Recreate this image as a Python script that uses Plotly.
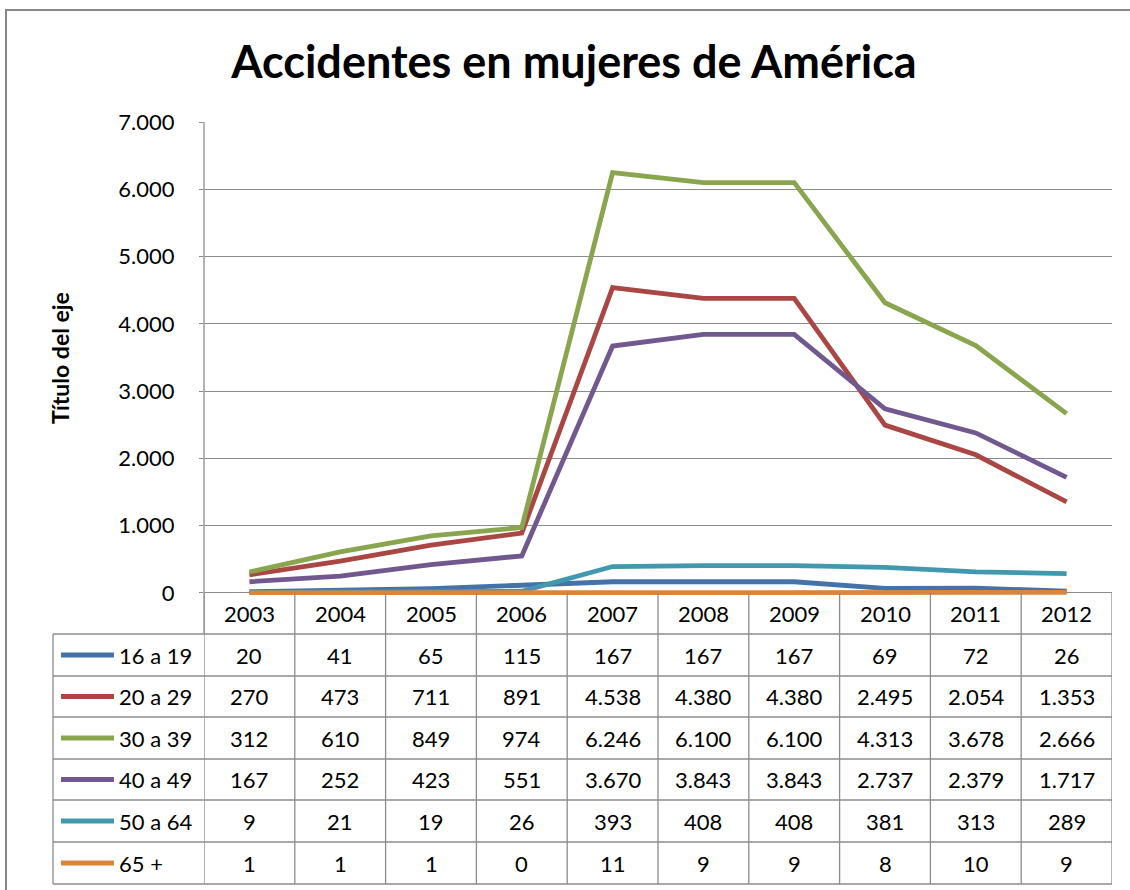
import plotly.graph_objects as go

years = ["2003", "2004", "2005", "2006", "2007", "2008", "2009", "2010", "2011", "2012"]
series_names = ["16 a 19", "20 a 29", "30 a 39", "40 a 49", "50 a 64", "65 +"]
v_16_19 = [20, 41, 65, 115, 167, 167, 167, 69, 72, 26]
v_20_29 = [270, 473, 711, 891, 4538, 4380, 4380, 2495, 2054, 1353]
v_30_39 = [312, 610, 849, 974, 6246, 6100, 6100, 4313, 3678, 2666]
v_40_49 = [167, 252, 423, 551, 3670, 3843, 3843, 2737, 2379, 1717]
v_50_64 = [9, 21, 19, 26, 393, 408, 408, 381, 313, 289]
v_65 = [1, 1, 1, 0, 11, 9, 9, 8, 10, 9]
series_values = [v_16_19, v_20_29, v_30_39, v_40_49, v_50_64, v_65]
colors = ["#4572A7", "#AA4643", "#89A54E", "#71588F", "#4198AF", "#DB843D"]

W, H = 1130, 890
PL, PR, PT, PB = 204, 1112, 122, 595
FONT = "Lato"
GRID = "#8C8C8C"
TXT = 22
LW = 4.8


def py(p):
    return (PB - p) / (PB - PT)


def px(p):
    return (p - PL) / (PR - PL)


fig = go.Figure()
xs = list(range(len(years)))
for name, vals, col in zip(series_names, series_values, colors):
    fig.add_trace(go.Scatter(x=xs, y=vals, name=name, mode="lines",
                             line=dict(color=col, width=LW)))

shapes = []
annotations = []

# outer chart border
shapes.append(dict(type="rect", xref="paper", yref="paper",
                   x0=px(6), x1=px(1140), y0=py(900), y1=py(10),
                   line=dict(color="#888888", width=2), layer="below"))

# left axis line
shapes.append(dict(type="line", xref="paper", yref="paper",
                   x0=0, x1=0, y0=py(634), y1=py(PT),
                   line=dict(color=GRID, width=1.3)))

# table geometry (pixel rows)
row_lines = [634, 676, 717, 759, 800, 842, 884]
for r in row_lines:
    shapes.append(dict(type="line", xref="paper", yref="paper",
                       x0=px(53), x1=1, y0=py(r), y1=py(r),
                       line=dict(color=GRID, width=1.3)))
shapes.append(dict(type="line", xref="paper", yref="paper",
                   x0=px(53), x1=px(53), y0=py(634), y1=py(884),
                   line=dict(color=GRID, width=1.3)))
for i in range(len(years) + 1):
    shapes.append(dict(type="line", xref="x", yref="paper",
                       x0=i - 0.5, x1=i - 0.5, y0=py(593), y1=py(884),
                       line=dict(color=GRID, width=1.3)))

# header years
for i, yr in enumerate(years):
    annotations.append(dict(x=i, y=py(613.5), xref="x", yref="paper", text=yr,
                            showarrow=False, font=dict(family=FONT, size=TXT, color="#000000"),
                            xanchor="center", yanchor="middle"))

# rows
for k, (name, vals, col) in enumerate(zip(series_names, series_values, colors)):
    top, bot = row_lines[k], row_lines[k + 1]
    cy = (top + bot) / 2
    shapes.append(dict(type="line", xref="paper", yref="paper",
                       x0=px(61), x1=px(114), y0=py(cy), y1=py(cy),
                       line=dict(color=col, width=LW)))
    annotations.append(dict(x=px(117), y=py(cy), xref="paper", yref="paper", text=name,
                            showarrow=False, font=dict(family=FONT, size=TXT, color="#000000"),
                            xanchor="left", yanchor="middle"))
    for i, v in enumerate(vals):
        annotations.append(dict(x=i, y=py(cy), xref="x", yref="paper",
                                text=f"{v:,}".replace(",", "."),
                                showarrow=False, font=dict(family=FONT, size=TXT, color="#000000"),
                                xanchor="center", yanchor="middle"))

# y axis title
annotations.append(dict(x=px(60), y=py(358), xref="paper", yref="paper", text="<b>Título del eje</b>",
                        showarrow=False, textangle=-90, font=dict(family=FONT, size=23, color="#000000"),
                        xanchor="center", yanchor="middle"))

fig.update_layout(
    width=W, height=H,
    margin=dict(l=PL, r=W - PR, t=PT, b=H - PB, pad=0),
    paper_bgcolor="white", plot_bgcolor="white",
    separators=",.",
    showlegend=False,
    title=dict(text="<b>Accidentes en mujeres de América</b>", x=574 / W, xanchor="center",
               y=1 - 62 / H, yanchor="middle",
               font=dict(family=FONT, size=45, color="#000000")),
    xaxis=dict(range=[-0.5, 9.5], showgrid=False, zeroline=False, showline=False,
               showticklabels=False, ticks="", fixedrange=True),
    yaxis=dict(range=[-30, 7000], tickvals=[0, 1000, 2000, 3000, 4000, 5000, 6000, 7000],
               tickformat=",d", showgrid=True, gridcolor=GRID, gridwidth=1.3,
               zeroline=False, showline=False, ticks="outside", ticklen=4, tickcolor=GRID,
               ticklabelstandoff=20,
               tickfont=dict(family=FONT, size=TXT, color="#000000")),
    shapes=shapes,
    annotations=annotations,
)

fig.write_html("out.html", config={"displayModeBar": False},
               post_script="document.body.style.margin='0px';")
